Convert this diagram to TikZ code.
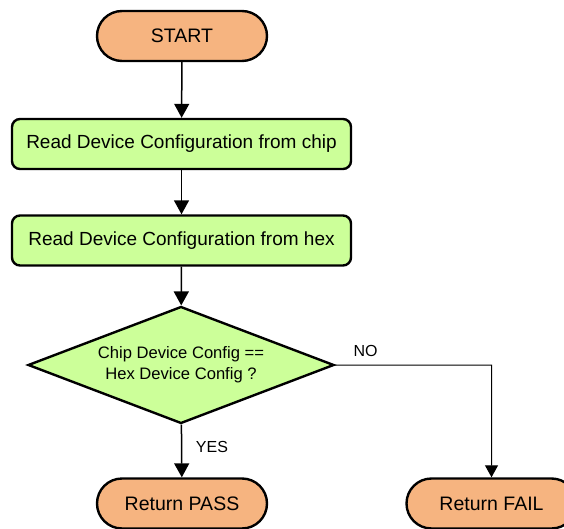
\documentclass[tikz,border=0pt]{standalone}
\usepackage{fontspec}
\setmainfont{Liberation Sans}
\usetikzlibrary{shapes.misc,shapes.geometric,arrows.meta}
\definecolor{termfill}{RGB}{246,180,128}
\definecolor{procfill}{RGB}{204,255,153}
\tikzset{
  term/.style={rounded rectangle, draw=black, line width=2.4pt, fill=termfill,
    minimum width=170pt, minimum height=50pt, inner sep=0pt,
    font=\fontsize{19.5}{23}\selectfont},
  proc/.style={rectangle, rounded corners=8pt, draw=black, line width=2.4pt, fill=procfill,
    minimum width=339pt, minimum height=50pt, inner sep=0pt,
    font=\fontsize{19}{22}\selectfont},
  decide/.style={diamond, draw=black, line width=2.4pt, fill=procfill, aspect=2.61,
    minimum width=306pt, minimum height=117pt, inner sep=0pt, align=center,
    font=\fontsize{16.6}{21}\selectfont},
  conn/.style={draw=black, line width=1.5pt, -{Triangle[length=14pt,width=15pt]}},
  thinconn/.style={draw=black, line width=1pt, -{Triangle[length=12pt,width=13pt]}},
  lbl/.style={font=\fontsize{16}{19}\selectfont, inner sep=0pt}
}
\begin{document}
\begin{tikzpicture}[x=1pt,y=-1pt]
\useasboundingbox (0,0) rectangle (564,529);
\clip (0,0) rectangle (564,529);
\node[term] (start) at (182,36) {START};
\node[proc] (chip) at (181.5,144) {Read Device Configuration from chip};
\node[proc] (hex) at (181.5,240.5) {Read Device Configuration from hex};
\node[decide] (dec) at (181,365) {Chip Device Config ==\\Hex Device Config ?};
\node[term] (pass) at (182,503.5) {Return PASS};
\node[term] (fail) at (491.5,503.5) {Return FAIL};
\coordinate (corner) at (491.5,365);
\draw[conn] (start) -- (chip);
\draw[conn] (chip) -- (hex);
\draw[conn] (hex) -- (dec);
\draw[conn] (dec) -- (pass);
\draw[thinconn] (dec.east) -- (corner) -- (fail);
\node[lbl] (no) at (365.5,351) {NO};
\node[lbl] (yes) at (212,447) {YES};
\end{tikzpicture}
\end{document}
